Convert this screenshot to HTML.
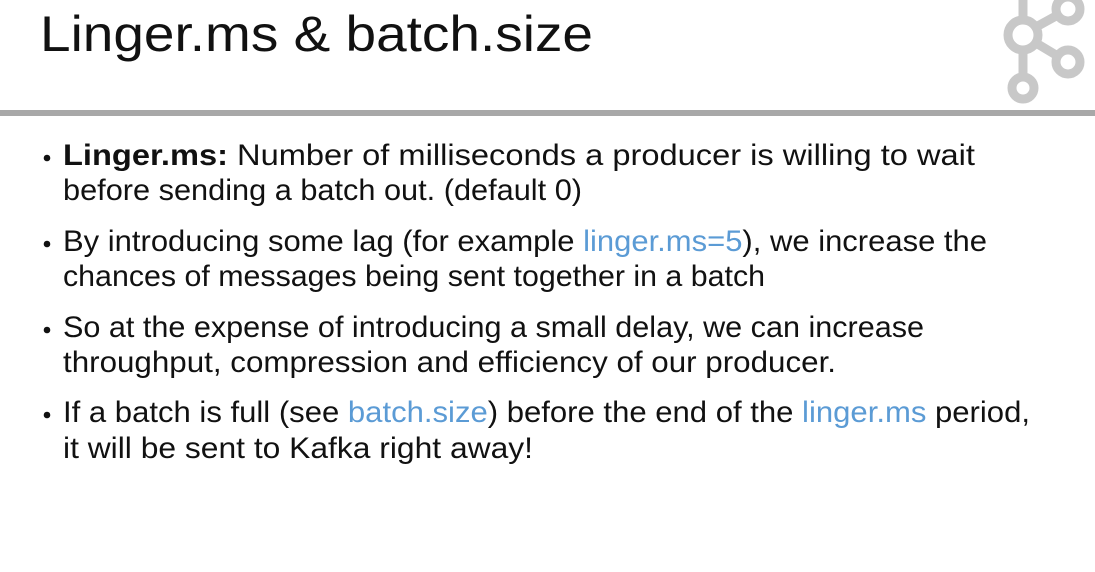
<!DOCTYPE html>
<html><head><meta charset="utf-8"><style>
html,body{margin:0;padding:0;background:#fff;}
svg{display:block;}
text{font-family:"Liberation Sans",sans-serif;fill:#111;}
.b{fill:#5b9bd5;}
</style></head><body>
<svg width="1095" height="572" viewBox="0 0 1095 572" xmlns="http://www.w3.org/2000/svg">
<rect width="1095" height="572" fill="#fff"/>
<text x="40" y="51" font-size="50" textLength="553" lengthAdjust="spacingAndGlyphs">Linger.ms &amp; batch.size</text>
<g stroke="#c8c8c8" stroke-width="9" fill="none">
<line x1="1023" y1="0" x2="1023" y2="20"/>
<line x1="1023" y1="50" x2="1023" y2="76"/>
<line x1="1036" y1="27" x2="1056" y2="16"/>
<line x1="1036" y1="43" x2="1056" y2="55"/>
<circle cx="1023" cy="35" r="15"/>
<circle cx="1068" cy="9" r="12"/>
<circle cx="1068" cy="62" r="12"/>
<circle cx="1023" cy="88" r="11"/>
</g>
<rect x="0" y="110" width="1095" height="6" fill="#a8a8a8"/>
<g fill="#111">
<circle cx="47" cy="158" r="3.3"/>
<circle cx="47" cy="244" r="3.3"/>
<circle cx="47" cy="330" r="3.3"/>
<circle cx="47" cy="415" r="3.3"/>
</g>
<g font-size="30">
<text x="63" y="165" textLength="912" lengthAdjust="spacingAndGlyphs"><tspan font-weight="bold">Linger.ms:</tspan> Number of milliseconds a producer is willing to wait</text>
<text x="63" y="200" textLength="519" lengthAdjust="spacingAndGlyphs">before sending a batch out.  (default 0)</text>
<text x="63" y="251" textLength="924" lengthAdjust="spacingAndGlyphs">By introducing some lag (for example <tspan class="b">linger.ms=5</tspan>), we increase the</text>
<text x="63" y="286" textLength="702" lengthAdjust="spacingAndGlyphs">chances of messages being sent together in a batch</text>
<text x="63" y="337" textLength="861" lengthAdjust="spacingAndGlyphs">So at the expense of introducing a small delay, we can increase</text>
<text x="63" y="372" textLength="773" lengthAdjust="spacingAndGlyphs">throughput, compression and efficiency of our producer.</text>
<text x="63" y="422" textLength="967" lengthAdjust="spacingAndGlyphs">If a batch is full (see <tspan class="b">batch.size</tspan>) before the end of the <tspan class="b">linger.ms</tspan> period,</text>
<text x="63" y="458" textLength="470" lengthAdjust="spacingAndGlyphs">it will be sent to Kafka right away!</text>
</g>
</svg>
</body></html>
